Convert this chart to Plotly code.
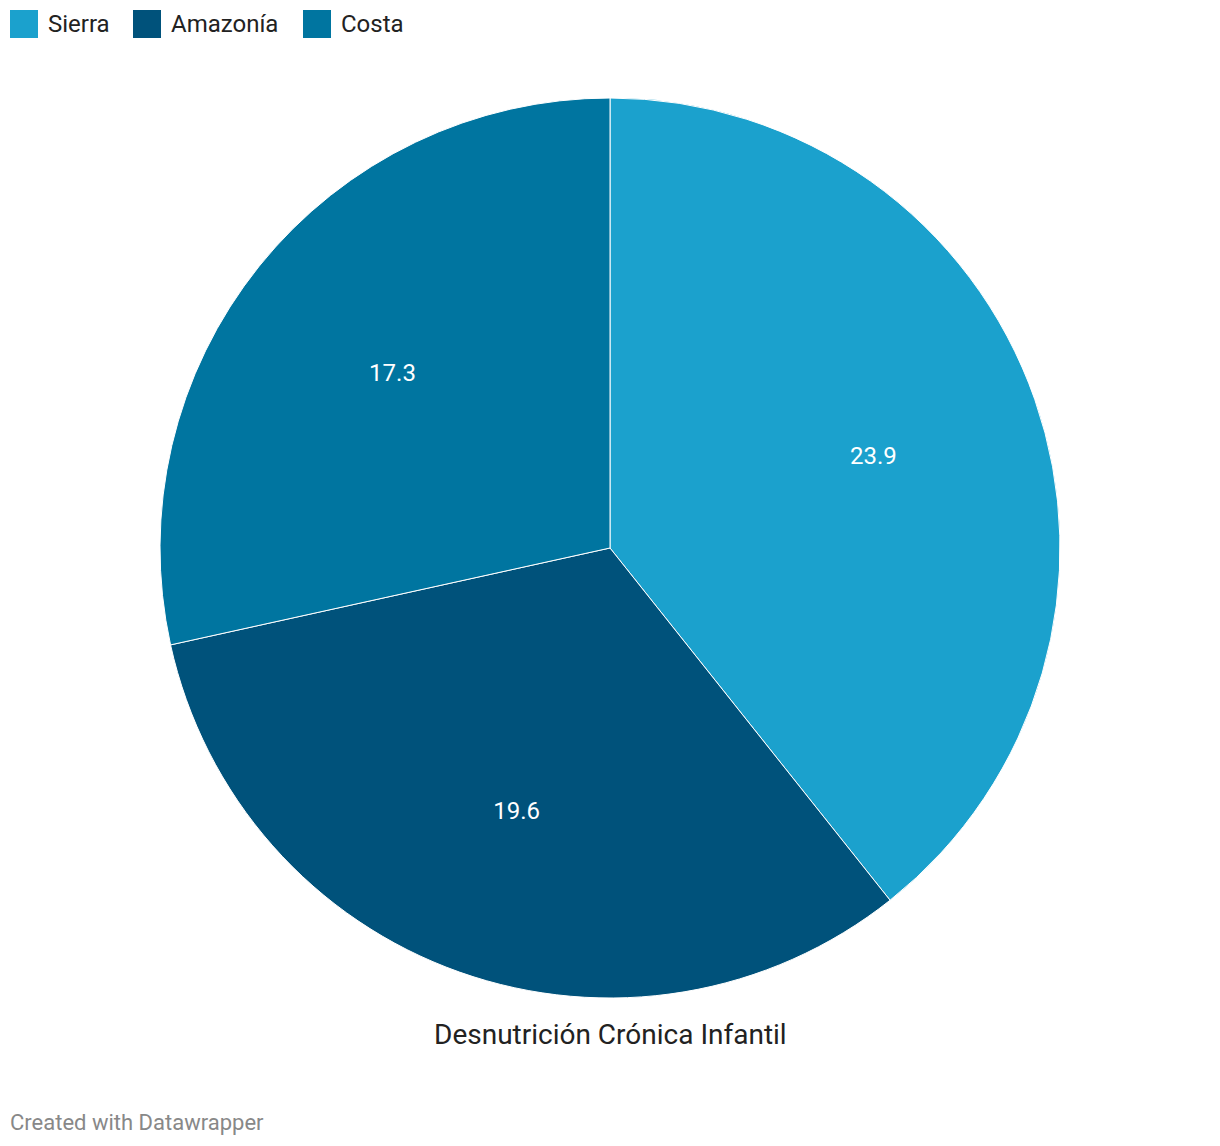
import plotly.graph_objects as go

regions = ["Sierra", "Amazonía", "Costa"]
values = [23.9, 19.6, 17.3]
colors = ["#1ba1cd", "#00527b", "#0075a0"]

W, H = 1220, 1146
pie_domain = dict(x=[160 / W, 1060 / W], y=[1 - 998 / H, 1 - 98 / H])

fig = go.Figure()
# coloured slices
fig.add_trace(go.Pie(
    labels=regions, values=values, sort=False, direction="clockwise", rotation=0,
    marker=dict(colors=colors, line=dict(color="white", width=1)),
    textinfo="none", hoverinfo="label+value", showlegend=False,
    domain=pie_domain,
))
# transparent ring on top, only used to place the value labels further out
fig.add_trace(go.Pie(
    labels=regions, values=values, sort=False, direction="clockwise", rotation=0,
    hole=0.24,
    marker=dict(colors=["rgba(0,0,0,0)"] * len(regions), line=dict(width=0)),
    texttemplate="%{value}", textposition="inside",
    insidetextorientation="horizontal",
    textfont=dict(family="Roboto", size=24, color="white"),
    hoverinfo="skip", showlegend=False,
    domain=pie_domain,
))

# legend drawn by hand (square swatches like Datawrapper)
legend_x = [10, 133, 303]
for name, col, lx in zip(regions, colors, legend_x):
    fig.add_shape(type="rect", xref="paper", yref="paper",
                  x0=lx / W, x1=(lx + 28) / W, y0=1 - 38 / H, y1=1 - 10 / H,
                  fillcolor=col, line=dict(width=0))
    fig.add_annotation(text=name, x=(lx + 36) / W, y=1 - 24 / H,
                       xref="paper", yref="paper", showarrow=False,
                       xanchor="left", yanchor="middle",
                       font=dict(family="Roboto", size=24, color="#222222"))

fig.add_annotation(text="Desnutrición Crónica Infantil", x=0.5, y=1 - 1034 / H,
                   xref="paper", yref="paper", showarrow=False, yanchor="middle",
                   font=dict(family="Roboto", size=28, color="#222222"))
fig.add_annotation(text="Created with Datawrapper", x=8 / W, y=1 - 1122 / H,
                   xref="paper", yref="paper", showarrow=False,
                   xanchor="left", yanchor="middle",
                   font=dict(family="Roboto", size=22, color="#888888"))

fig.update_layout(
    width=W, height=H,
    margin=dict(l=0, r=0, t=0, b=0),
    paper_bgcolor="white",
    font=dict(family="Roboto"),
    showlegend=False,
)

fig.write_html("out.html", config={"displayModeBar": False},
               post_script="document.body.style.margin='0px';")
